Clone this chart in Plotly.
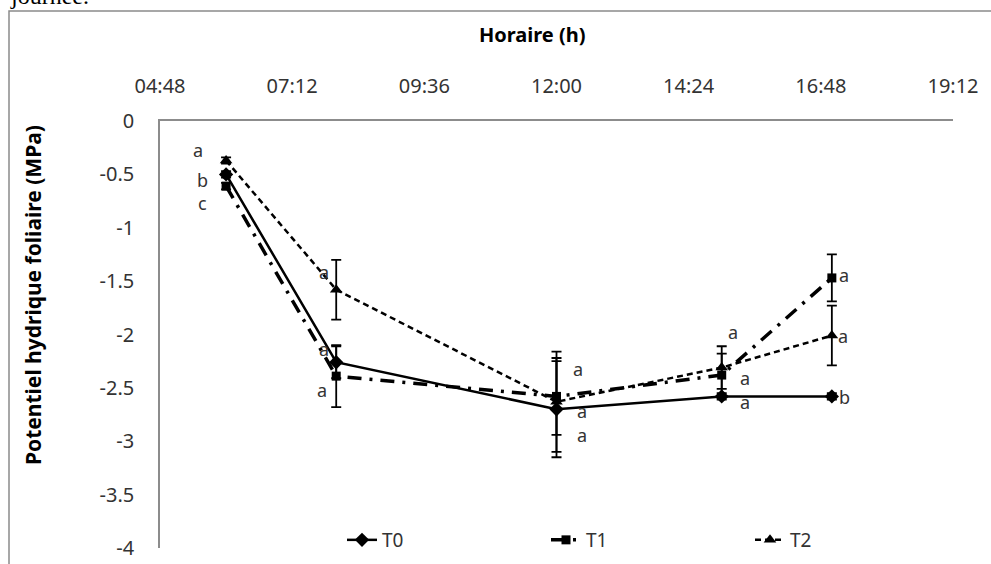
import plotly.graph_objects as go

# ---- data ----
hours = [6, 8, 12, 15, 17]
t0 = [-0.50, -2.26, -2.70, -2.58, -2.58]
t1 = [-0.61, -2.39, -2.58, -2.38, -1.47]
t2 = [-0.37, -1.58, -2.63, -2.31, -2.01]
t0_err = [0.03, 0.15, 0.45, 0.03, 0.03]
t1_err = [0.03, 0.29, 0.36, 0.20, 0.22]
t2_err = [0.03, 0.28, 0.47, 0.20, 0.28]
t0_letters = ["b", "a", "a", "a", "b"]
t1_letters = ["c", "a", "a", "a", "a"]
t2_letters = ["a", "a", "a", "a", "a"]
x_tick_hours = [4.8, 7.2, 9.6, 12.0, 14.4, 16.8, 19.2]
x_tick_labels = ["04:48", "07:12", "09:36", "12:00", "14:24", "16:48", "19:12"]
y_tick_vals = [0, -0.5, -1, -1.5, -2, -2.5, -3, -3.5, -4]
y_tick_labels = ["0", "-0.5", "-1", "-1.5", "-2", "-2.5", "-3", "-3.5", "-4"]

# ---- styles ----
FONT = "Noto Sans"
TXT = "#333333"
AXC = "#8c8c8c"

# letter offsets (px) per series / point
t0_shift = [(-24, -6), (-12, 13), (25, -26), (23, -6), (13, -1)]
t1_shift = [(-24, -17), (-14, -14), (21, 27), (23, -3), (12, 3)]
t2_shift = [(-28, 11), (-12, 18), (25, -9), (11, 36), (11, 0)]

fig = go.Figure()

series = [
    ("T0", t0, t0_err, dict(color="black", width=2.5, dash="solid"),
     dict(symbol="diamond", size=11, color="black")),
    ("T1", t1, t1_err, dict(color="black", width=3.5, dash="14px,8px,3px,8px"),
     dict(symbol="square", size=9, color="black")),
    ("T2", t2, t2_err, dict(color="black", width=2.5, dash="6px,4px"),
     dict(symbol="triangle-up", size=11, color="black")),
]
for name, vals, err, line, marker in series:
    fig.add_trace(go.Scatter(
        x=hours, y=vals, name=name, mode="lines+markers",
        line=line, marker=marker,
        error_y=dict(type="data", array=err, visible=True,
                     color="black", thickness=1.8, width=5),
    ))

annotations = []
for vals, letters, shifts in [(t0, t0_letters, t0_shift),
                              (t1, t1_letters, t1_shift),
                              (t2, t2_letters, t2_shift)]:
    for h, v, lab, (dx, dy) in zip(hours, vals, letters, shifts):
        annotations.append(dict(
            x=h, y=v, xref="x", yref="y", text=lab, showarrow=False,
            xshift=dx, yshift=dy, font=dict(family=FONT, size=18, color=TXT)))

# axis titles
annotations.append(dict(
    x=(532 - 160) / 793, y=(548 - 34) / 427, xref="paper", yref="paper",
    xanchor="center", yanchor="middle",
    text="<b>Horaire (h)</b>", showarrow=False,
    font=dict(family=FONT, size=20, color="black")))
annotations.append(dict(
    x=(33 - 160) / 793, y=(548 - 295) / 427, xref="paper", yref="paper",
    xanchor="center", yanchor="middle",
    text="<b>Potentiel hydrique foliaire (MPa)</b>", showarrow=False,
    textangle=-90, font=dict(family=FONT, size=21, color="black")))
# clipped caption text at top-left
annotations.append(dict(
    x=(8 - 160) / 793, y=(548 + 4) / 427, xref="paper", yref="paper",
    xanchor="left", yanchor="middle", text="journée.", showarrow=False,
    font=dict(family="Liberation Serif", size=24, color="black")))

fig.update_layout(
    width=991, height=564,
    margin=dict(l=160, r=38, t=121, b=16, autoexpand=False),
    paper_bgcolor="white", plot_bgcolor="white",
    font=dict(family=FONT, size=20, color=TXT),
    showlegend=True,
    legend=dict(orientation="h", x=(342 - 160) / 793, xanchor="left",
                y=(548 - 540) / 427, yanchor="middle",
                entrywidth=159, entrywidthmode="pixels",
                bgcolor="rgba(0,0,0,0)",
                font=dict(family=FONT, size=19, color=TXT)),
    annotations=annotations,
    shapes=[dict(type="rect", xref="paper", yref="paper",
                 x0=(9 - 160) / 793, x1=(1010 - 160) / 793,
                 y0=(548 - 600) / 427, y1=(548 - 11) / 427,
                 line=dict(color="#8a8a8a", width=1.5), layer="below")],
)
fig.update_xaxes(
    range=[4.8, 19.2], side="top", tickvals=x_tick_hours, ticktext=x_tick_labels,
    showline=True, linecolor=AXC, linewidth=1.5, showgrid=False, zeroline=False,
    ticks="", ticklabelstandoff=18, tickfont=dict(family=FONT, size=20, color=TXT))
fig.update_yaxes(
    range=[-4, 0], tickvals=y_tick_vals, ticktext=y_tick_labels,
    showline=True, linecolor=AXC, linewidth=1.5, showgrid=False, zeroline=False,
    ticks="", ticklabelstandoff=20, tickfont=dict(family=FONT, size=20, color=TXT))

fig.write_html("out.html",
               config={"displayModeBar": False},
               post_script="document.body.style.margin='0';"
                           "document.body.style.overflow='hidden';")
